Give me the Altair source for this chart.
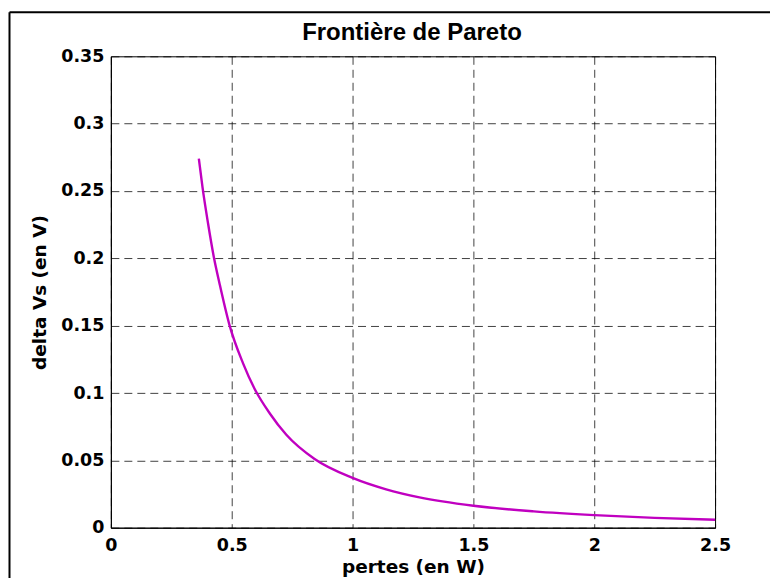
import altair as alt
import pandas as pd

# Pareto front
pertes = [0.364, 0.379, 0.402, 0.427, 0.450, 0.490, 0.547, 0.595, 0.657, 0.726,
          0.843, 1.000, 1.139, 1.277, 1.500, 1.750, 2.000, 2.250, 2.500]
delta_vs = [0.274, 0.253, 0.226, 0.200, 0.181, 0.151, 0.122, 0.103, 0.085, 0.069,
            0.051, 0.037, 0.0285, 0.0225, 0.0163, 0.0121, 0.0093, 0.0073, 0.0059]

x_ticks = [0, 0.5, 1, 1.5, 2, 2.5]
y_ticks = [0, 0.05, 0.1, 0.15, 0.2, 0.25, 0.3, 0.35]

df = pd.DataFrame({"pertes": pertes, "delta": delta_vs})

W, H = 605, 472
LABEL_FONT = "DejaVu Sans"

common_axis = dict(
    grid=True, gridDash=[8, 5], gridColor="#000000", gridOpacity=0.75, gridWidth=1,
    ticks=False, domain=True, domainColor="#000000", domainWidth=1,
    labelFont=LABEL_FONT, labelFontWeight="bold", labelFontSize=17.5, labelColor="#000000",
    labelFlush=False,
    titleFont=LABEL_FONT, titleFontWeight="bold", titleFontSize=18.5, titleColor="#000000",
    format="~g",
)

curve = alt.Chart(df).mark_line(
    color="#c000c0", strokeWidth=2.4, interpolate="monotone"
).encode(
    x=alt.X("pertes:Q",
            scale=alt.Scale(domain=[0, 2.5], nice=False, zero=False),
            axis=alt.Axis(values=x_ticks, title="pertes (en W)", labelPadding=9,
                          titlePadding=3, **common_axis)),
    y=alt.Y("delta:Q",
            scale=alt.Scale(domain=[0, 0.35], nice=False, zero=False),
            axis=alt.Axis(values=y_ticks, title="delta Vs (en V)", labelPadding=7,
                          titlePadding=11, **common_axis)),
)

frame_df = pd.DataFrame({"k": [0]})
frame_top = alt.Chart(frame_df).mark_rule(color="black", strokeWidth=2, clip=False).encode(
    x=alt.value(-101.5), x2=alt.value(700), y=alt.value(-44)
)
frame_left = alt.Chart(frame_df).mark_rule(color="black", strokeWidth=2, clip=False).encode(
    x=alt.value(-101.5), y=alt.value(-44), y2=alt.value(560)
)
title = alt.Chart(frame_df).mark_text(
    text="Frontière de Pareto", font="Liberation Sans", fontSize=24, fontWeight="bold",
    color="#000000", align="center", baseline="alphabetic",
).encode(x=alt.value(W / 2 - 1), y=alt.value(-16))

chart = alt.layer(curve, frame_top, frame_left, title).properties(
    width=W, height=H,
    padding={"left": 103, "top": 48, "right": 55, "bottom": 50},
    autosize=alt.AutoSizeParams(type="none"),
).configure_view(stroke="#000000", strokeWidth=1)

chart.save("out.html", embed_options={"renderer": "svg", "actions": False})
